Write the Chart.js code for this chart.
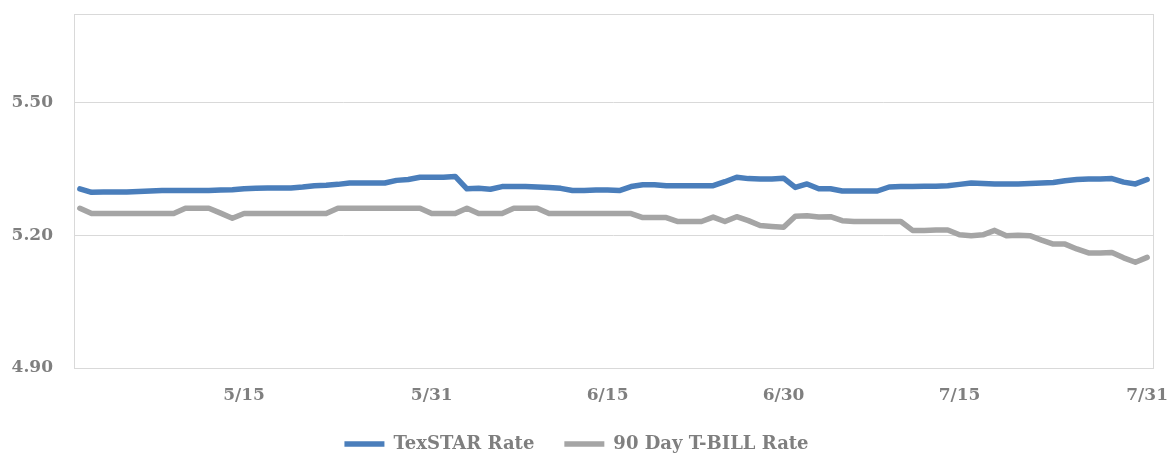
<!DOCTYPE html>
<html>
<head>
<meta charset="utf-8">
<script src="https://cdn.jsdelivr.net/npm/chart.js@4.4.1/dist/chart.umd.min.js"></script>
<style>
  html, body { margin: 0; padding: 0; background: #fff; overflow: hidden; }
</style>
</head>
<body>
<canvas id="rateChart" width="1170" height="470"></canvas>
<script>
// DATA
// daily dates 5/1 .. 7/31
const months = [[5, 31], [6, 30], [7, 31]];
const dayLabels = [];
months.forEach(([m, n]) => {
    for (let d = 1; d <= n; d++) dayLabels.push(m + '/' + d);
});

const shownDates = ['5/15', '5/31', '6/15', '6/30', '7/15', '7/31'];
const yTicks = [4.90, 5.20, 5.50, 5.70];

const texstarRate = [
    5.305, 5.297, 5.2975, 5.298, 5.298, 5.299, 5.300, 5.301, 5.301, 5.301,
    5.301, 5.301, 5.302, 5.303, 5.305, 5.306, 5.307, 5.307, 5.307, 5.309,
    5.312, 5.313, 5.315, 5.318, 5.318, 5.318, 5.318, 5.324, 5.326, 5.331,
    5.331, 5.331, 5.333, 5.305, 5.306, 5.304, 5.310, 5.310, 5.310, 5.309,
    5.308, 5.306, 5.301, 5.301, 5.302, 5.302, 5.301, 5.310, 5.314, 5.314,
    5.312, 5.312, 5.312, 5.312, 5.312, 5.321, 5.331, 5.328, 5.327, 5.327,
    5.329, 5.308, 5.316, 5.305, 5.305, 5.300, 5.300, 5.300, 5.300, 5.309,
    5.310, 5.310, 5.311, 5.311, 5.312, 5.315, 5.318, 5.317, 5.316, 5.316,
    5.316, 5.317, 5.318, 5.319, 5.323, 5.326, 5.327, 5.327, 5.328, 5.320,
    5.316, 5.326
];

const tbillRate = [
    5.261, 5.249, 5.249, 5.249, 5.249, 5.249, 5.249, 5.249, 5.249, 5.261,
    5.261, 5.261, 5.250, 5.2385, 5.249, 5.249, 5.249, 5.249, 5.249, 5.249,
    5.249, 5.249, 5.261, 5.261, 5.261, 5.261, 5.261, 5.261, 5.261, 5.261,
    5.249, 5.249, 5.249, 5.261, 5.249, 5.249, 5.249, 5.261, 5.261, 5.261,
    5.249, 5.249, 5.249, 5.249, 5.249, 5.249, 5.249, 5.249, 5.240, 5.240,
    5.240, 5.231, 5.231, 5.231, 5.241, 5.231, 5.242, 5.233, 5.222, 5.220,
    5.218, 5.243, 5.244, 5.241, 5.242, 5.233, 5.231, 5.231, 5.231, 5.231,
    5.231, 5.211, 5.211, 5.212, 5.212, 5.201, 5.199, 5.201, 5.211, 5.199,
    5.200, 5.199, 5.189, 5.180, 5.180, 5.169, 5.160, 5.160, 5.161, 5.149,
    5.139, 5.150
];

const TEXT_COLOR = '#7f7f7f';
const GRID_COLOR = '#d9d9d9';
const FONT = { family: '"DejaVu Serif", "Liberation Serif", serif', size: 17, weight: 'bold' };
const LEGEND_FONT = { family: '"DejaVu Serif", "Liberation Serif", serif', size: 18, weight: 'bold' };

// border box around plot area
const plotBorder = {
    id: 'plotBorder',
    afterDraw(chart) {
        const { ctx, chartArea: a } = chart;
        ctx.save();
        ctx.strokeStyle = GRID_COLOR;
        ctx.lineWidth = 1;
        ctx.strokeRect(Math.round(a.left) + 0.5, Math.round(a.top) + 0.5,
            Math.round(a.right - a.left), Math.round(a.bottom - a.top));
        ctx.restore();
    }
};

const ctx = document.getElementById('rateChart').getContext('2d');
new Chart(ctx, {
    type: 'line',
    data: {
        labels: dayLabels,
        datasets: [{
            label: 'TexSTAR Rate',
            data: texstarRate,
            borderColor: '#4a7ebb',
            backgroundColor: '#4a7ebb',
            borderWidth: 5.5,
            borderCapStyle: 'round',
            borderJoinStyle: 'round',
            pointRadius: 0,
            tension: 0
        }, {
            label: '90 Day T-BILL Rate',
            data: tbillRate,
            borderColor: '#a5a5a5',
            backgroundColor: '#a5a5a5',
            borderWidth: 5.5,
            borderCapStyle: 'round',
            borderJoinStyle: 'round',
            pointRadius: 0,
            tension: 0
        }]
    },
    options: {
        responsive: false,
        devicePixelRatio: 1,
        animation: false,
        layout: { padding: { top: 14, right: 17, left: 0, bottom: 7 } },
        scales: {
            x: {
                offset: true,
                grid: { display: false, drawTicks: false },
                border: { display: false },
                ticks: {
                    autoSkip: false,
                    maxRotation: 0,
                    padding: 17,
                    color: TEXT_COLOR,
                    font: FONT,
                    callback: function(val) {
                        const lab = this.getLabelForValue(val);
                        return shownDates.includes(lab) ? lab : '';
                    }
                },
                afterFit: scale => {
                    scale.height = 37;
                    scale.paddingLeft = 0;
                    scale.paddingRight = 0;
                }
            },
            y: {
                min: 4.9,
                max: 5.7,
                afterBuildTicks: scale => { scale.ticks = yTicks.map(v => ({ value: v })); },
                grid: { color: GRID_COLOR, lineWidth: 1, drawTicks: false },
                border: { display: false },
                ticks: {
                    padding: 21,
                    color: TEXT_COLOR,
                    font: FONT,
                    callback: v => (v > 5.6 ? '' : v.toFixed(2))
                },
                afterFit: scale => {
                    scale.width = 74;
                    scale.paddingTop = 0;
                    scale.paddingBottom = 0;
                }
            }
        },
        plugins: {
            legend: {
                position: 'bottom',
                labels: {
                    usePointStyle: true,
                    pointStyle: 'line',
                    pointStyleWidth: 40,
                    boxHeight: 5,
                    padding: 30,
                    color: TEXT_COLOR,
                    font: LEGEND_FONT
                }
            },
            tooltip: { enabled: false }
        }
    },
    plugins: [plotBorder]
});
</script>
</body>
</html>
